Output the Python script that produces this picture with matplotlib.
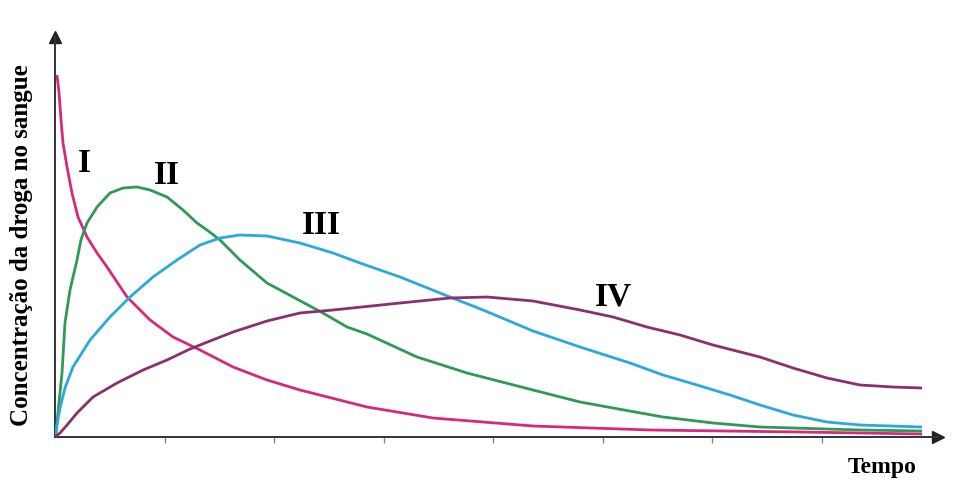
import numpy as np
import matplotlib.pyplot as plt

plt.rcParams['font.family'] = ['Liberation Serif', 'DejaVu Serif']

# curve I (magenta)
x_i = [0.018, 0.037, 0.055, 0.073, 0.110, 0.155, 0.210, 0.292, 0.384, 0.475, 0.658, 0.868,
       1.078, 1.324, 1.626, 1.936, 2.237, 2.849, 3.452, 4.365, 5.434, 6.804, 7.918]
y_i = [362, 344, 317, 294, 270, 244, 220, 200, 184, 170, 140, 117,
       100, 87, 70, 57, 47, 30, 19, 11, 7, 5, 3]

# curve II (green)
x_ii = [0, 0.009, 0.027, 0.064, 0.091, 0.137, 0.201, 0.237, 0.292, 0.384, 0.502, 0.621,
        0.749, 0.868, 1.023, 1.169, 1.297, 1.388, 1.507, 1.689, 1.936, 2.174, 2.447, 2.667,
        2.849, 3.306, 3.763, 4.365, 4.795, 5.096, 5.553, 6.009, 6.438, 7.352, 7.918]
y_ii = [0, 4, 24, 64, 114, 147, 177, 197, 214, 230, 244, 249,
        250, 247, 240, 227, 214, 207, 197, 177, 154, 140, 124, 110,
        103, 80, 64, 47, 35, 29, 20, 14, 10, 7, 6]

# curve III (cyan)
x_iii = [0, 0.018, 0.046, 0.091, 0.164, 0.320, 0.502, 0.685, 0.895, 1.114, 1.324, 1.507,
         1.689, 1.936, 2.237, 2.539, 2.785, 3.151, 3.607, 3.909, 4.365, 4.795, 5.251,
         5.553, 5.863, 6.164, 6.438, 6.740, 7.050, 7.352, 7.918]
y_iii = [0, 12, 29, 49, 70, 97, 120, 140, 160, 177, 192, 199,
         202, 201, 194, 184, 174, 160, 140, 127, 106, 90, 74,
         62, 52, 42, 32, 22, 15, 12, 10]

# curve IV (purple)
x_iv = [0, 0.046, 0.110, 0.201, 0.347, 0.566, 0.804, 1.023, 1.233, 1.416, 1.626, 1.936,
        2.237, 2.539, 3.151, 3.607, 3.945, 4.365, 4.795, 5.096, 5.406, 5.708, 6.009,
        6.438, 6.740, 7.050, 7.352, 7.653, 7.918]
y_iv = [0, 4, 12, 24, 40, 54, 67, 77, 88, 96, 105, 116,
        124, 127, 134, 139, 140, 136, 127, 120, 110, 102, 92,
        80, 69, 59, 52, 50, 49]

labels = ['I', 'II', 'III', 'IV']
label_x = [0.265, 1.023, 2.429, 5.096]
label_y = [274, 261, 212, 140]
colors = ['#d8287c', '#2f9a55', '#2aa9da', '#8a2f72']

fig = plt.figure(figsize=(9.56, 4.83), dpi=100)
ax = fig.add_axes([55 / 956, 46 / 483, 883 / 956, 400 / 483])
ax.set_xlim(0, 883 / 109.5)
ax.set_ylim(0, 400)

for xs, ys, c in zip([x_i, x_ii, x_iii, x_iv], [y_i, y_ii, y_iii, y_iv], colors):
    ax.plot(xs, ys, color=c, lw=2.0, solid_capstyle='butt', solid_joinstyle='round', zorder=3)

for t, lx, ly in zip(labels, label_x, label_y):
    ax.text(lx, ly, t, fontsize=24, fontweight='bold', ha='center', va='center')

for s in ['top', 'right']:
    ax.spines[s].set_visible(False)
for s in ['left', 'bottom']:
    ax.spines[s].set_color('#333333')
    ax.spines[s].set_linewidth(1.4)

# arrow heads
ax.plot(1, 0, '>', color='#222222', ms=9, transform=ax.transAxes, clip_on=False)
ax.plot(0, 1, '^', color='#222222', ms=8, transform=ax.transAxes, clip_on=False)

ax.set_xticks(np.arange(1, 8))
ax.set_xticklabels([])
ax.set_yticks([])
ax.tick_params(axis='x', direction='out', length=4, width=1, color='#888888')

fig.text(22 / 956, 1 - 245 / 483, 'Concentração da droga no sangue', rotation=90,
         fontsize=18, fontweight='bold', ha='center', va='center')
fig.text(882 / 956, 1 - 468 / 483, 'Tempo', fontsize=17, fontweight='bold',
         ha='center', va='center')

fig.savefig('out.png', dpi=100)
